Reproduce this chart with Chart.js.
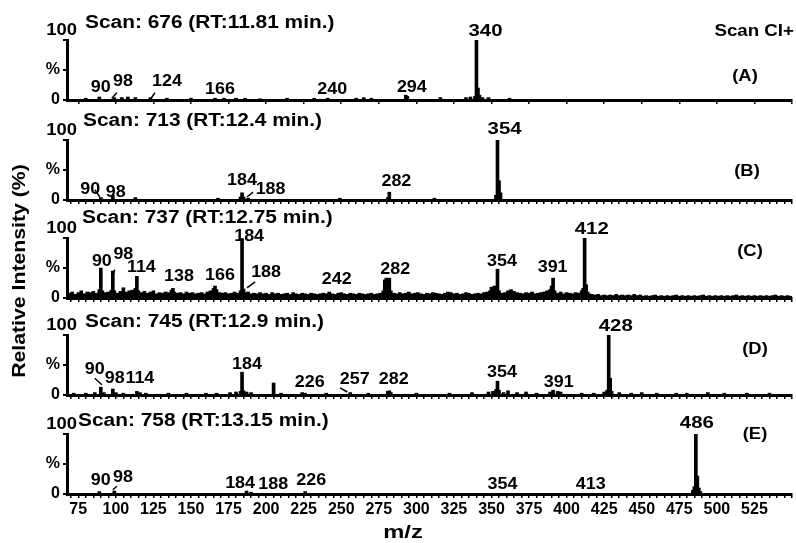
<!DOCTYPE html>
<html lang="en">
<head>
<meta charset="UTF-8" />
<title>Scan CI+ spectra</title>
<script src="https://cdn.jsdelivr.net/npm/chart.js"></script>
<style>
  body { margin: 0; background: #fff; }
  #wrap { position: relative; width: 796px; height: 543px; }
  #wrap canvas { position: absolute; left: 0; top: 0; }
</style>
</head>
<body>
<div id="wrap">
  <canvas id="specA" width="796" height="543"></canvas>
  <canvas id="specB" width="796" height="543"></canvas>
  <canvas id="specC" width="796" height="543"></canvas>
  <canvas id="specD" width="796" height="543"></canvas>
  <canvas id="specE" width="796" height="543"></canvas>
</div>
<script>
// --- data (m/z, relative intensity %) ---
const mzA = [80, 89, 99, 104, 108, 113, 123, 134, 150, 166, 172, 180, 186, 196, 214, 232, 241, 260, 265, 270,
             293, 294, 316, 333, 336, 339, 340, 341, 342, 344, 348, 362];
const intA = [3, 5, 4, 4, 5, 4, 4, 3, 3, 3, 3, 3, 3, 2, 3, 3, 3, 3, 4, 3,
              8, 6, 4, 4, 5, 6, 100, 20, 8, 4, 4, 3];

const mzB = [90, 98, 113, 168, 183, 184, 185, 188, 249, 281, 282, 312, 353, 354, 355, 356];
const intB = [4, 8, 4, 3, 5, 12, 5, 3, 3, 4, 13, 3, 8, 100, 32, 12];

const mzC = [69, 71, 73, 75, 77, 79, 81, 83, 85, 87,
             89, 90, 91, 93, 95, 97, 98, 99, 101, 103,
             105, 107, 109, 111, 113, 114, 115, 117, 119, 121,
             123, 125, 127, 129, 131, 133, 135, 137, 138, 139,
             141, 143, 145, 147, 149, 151, 153, 155, 157, 159,
             161, 163, 165, 166, 167, 169, 171, 173, 175, 177,
             179, 181, 183, 184, 185, 186, 188, 190, 192, 194,
             196, 198, 200, 202, 204, 206, 208, 210, 212, 214,
             216, 218, 220, 222, 224, 226, 228, 230, 232, 234,
             236, 238, 240, 242, 244, 246, 248, 250, 252, 254,
             256, 258, 260, 262, 264, 266, 268, 270, 272, 274,
             276, 278, 279, 280, 281, 282, 283, 285, 287, 289,
             291, 293, 295, 297, 299, 301, 303, 305, 307, 309,
             311, 313, 315, 317, 319, 321, 323, 325, 327, 329,
             331, 333, 335, 337, 339, 341, 343, 345, 347, 349,
             350, 352, 353, 354, 355, 357, 359, 361, 363, 365,
             367, 369, 371, 373, 375, 377, 379, 381, 383, 385,
             387, 389, 390, 391, 392, 394, 396, 398, 400, 402,
             404, 406, 408, 410, 411, 412, 413, 414, 415, 417,
             419, 421, 423, 425, 427, 429, 431, 433, 435, 437,
             439, 441, 443, 445, 447, 449, 451, 453, 455, 457,
             459, 461, 463, 465, 467, 469, 471, 473, 475, 477,
             479, 481, 483, 485, 487, 489, 491, 493, 495, 497,
             499, 501, 503, 505, 507, 509, 511, 513, 515, 517,
             519, 521, 523, 525, 527, 529, 531, 533, 535, 537,
             539, 541, 543, 545, 547, 549];
const intC = [8, 10, 6, 9, 12, 7, 10, 9, 11, 8,
              14, 50, 12, 9, 10, 13, 45, 12, 8, 11,
              17, 10, 12, 13, 16, 36, 12, 9, 11, 8,
              10, 12, 7, 9, 8, 10, 9, 13, 16, 10,
              8, 9, 7, 10, 8, 9, 7, 8, 9, 7,
              10, 12, 16, 20, 14, 9, 8, 9, 7, 8,
              10, 8, 12, 99, 15, 9, 10, 7, 8, 7,
              9, 7, 8, 6, 9, 7, 8, 6, 7, 8,
              6, 9, 7, 6, 8, 7, 6, 8, 7, 6,
              7, 8, 7, 10, 7, 6, 8, 9, 7, 6,
              8, 7, 6, 8, 7, 6, 7, 8, 6, 7,
              8, 12, 30, 33, 33, 33, 12, 8, 7, 9,
              7, 8, 10, 7, 8, 9, 7, 6, 8, 7,
              9, 8, 7, 6, 8, 10, 9, 7, 8, 6,
              7, 9, 8, 6, 7, 8, 7, 9, 10, 12,
              18, 20, 15, 48, 12, 8, 9, 12, 14, 11,
              9, 8, 7, 9, 8, 10, 7, 8, 9, 10,
              12, 14, 20, 33, 12, 8, 10, 7, 9, 8,
              7, 9, 8, 12, 16, 100, 22, 10, 7, 6,
              5, 6, 4, 5, 4, 5, 4, 6, 4, 5,
              4, 5, 4, 6, 4, 5, 3, 4, 3, 4,
              5, 3, 4, 3, 4, 3, 4, 5, 3, 4,
              3, 4, 3, 4, 3, 4, 5, 3, 4, 3,
              4, 3, 4, 3, 4, 3, 4, 5, 3, 4,
              3, 4, 3, 4, 3, 4, 3, 4, 3, 4,
              5, 3, 4, 3, 4, 3];

const mzD = [72, 80, 86, 90, 92, 98, 100, 105, 114, 116,
             120, 135, 147, 160, 167, 176, 180, 183, 184, 185,
             187, 190, 205, 210, 224, 226, 240, 256, 268, 281,
             282, 283, 300, 322, 337, 348, 351, 353, 354, 355,
             358, 361, 367, 373, 380, 389, 391, 394, 396, 410,
             418, 425, 427, 428, 429, 430, 435, 443, 450, 460,
             473, 480, 494, 505, 520, 535];
const intD = [3, 3, 4, 13, 4, 10, 4, 3, 6, 4,
              3, 3, 3, 3, 3, 4, 5, 6, 38, 7,
              5, 4, 20, 3, 4, 3, 3, 4, 3, 6,
              7, 4, 3, 3, 4, 5, 6, 9, 23, 8,
              4, 7, 4, 5, 3, 5, 8, 6, 5, 3,
              3, 5, 8, 100, 28, 6, 4, 3, 4, 3,
              3, 3, 4, 3, 3, 3];

const mzE = [89, 99, 187, 190, 226, 484, 485, 486, 487, 488, 489];
const intE = [4, 5, 5, 3, 4, 6, 12, 100, 30, 10, 4];

// peak labels: [text, m/z, level %]
const labA = [['340', 346, 115], ['90', 90, 20], ['98', 104.7, 30], ['124', 134, 30],
              ['166', 169.3, 17], ['240', 244, 17], ['294', 297, 20]];
const labB = [['354', 358.7, 118], ['90', 83, 18], ['98', 100, 12], ['184', 184, 33],
              ['188', 203, 17], ['282', 286.7, 30]];
const labC = [['412', 416.7, 115], ['184', 188.7, 103], ['90', 90.7, 60], ['98', 105, 72],
              ['114', 117, 50], ['138', 142, 35], ['166', 169.3, 37], ['188', 200, 42],
              ['242', 247, 30], ['282', 286, 47], ['354', 357, 60], ['391', 390.7, 50]];
const labD = [['428', 432.7, 115], ['90', 86, 42], ['98', 99.3, 28], ['114', 116, 27],
              ['184', 187.3, 50], ['226', 229, 20], ['257', 259, 25], ['282', 285, 25],
              ['354', 357, 37], ['391', 394.7, 20]];
const labE = [['486', 486.7, 118], ['90', 90, 22], ['98', 104.7, 27], ['184', 182.7, 18],
              ['188', 204.7, 15], ['226', 230, 22], ['354', 357.3, 15], ['413', 416, 15]];

// leader strokes: [m/z1, level1, m/z2, level2]
const ldA = [[122.7, 0, 126, 12], [97.3, 3, 100.7, 12]];
const ldB = [[86, 17, 89.3, 5], [187.3, 5, 191.3, 13]];
const ldC = [[99.3, 47, 97.3, 33], [187.3, 17, 192.7, 27]];
const ldD = [[86, 28, 90.7, 17], [249.3, 12, 254, 5]];
const ldE = [[98, 7, 100.7, 13]];

const scanTitles = ['Scan: 676 (RT:11.81 min.)', 'Scan: 713 (RT:12.4 min.)', 'Scan: 737 (RT:12.75 min.)',
                    'Scan: 745 (RT:12.9 min.)', 'Scan: 758 (RT:13.15 min.)'];

const FONT = '"Liberation Sans", Arial, sans-serif';
Chart.defaults.font.family = FONT;
Chart.defaults.color = '#000';

const panels = [
  { id: 'specA', key: 'A', mz: mzA, inten: intA, labels: labA, leaders: ldA, base: 100, step: 25, tx: 85, ty: -17, letter: [745, 77] },
  { id: 'specB', key: 'B', mz: mzB, inten: intB, labels: labB, leaders: ldB, base: 200, step: 5, tx: 83, ty: -19, letter: [747, 172] },
  { id: 'specC', key: 'C', mz: mzC, inten: intC, labels: labC, leaders: ldC, base: 298, step: 5, tx: 82, ty: -20, letter: [750, 252] },
  { id: 'specD', key: 'D', mz: mzD, inten: intD, labels: labD, leaders: ldD, base: 395, step: 5, tx: 85, ty: -13, letter: [755, 350] },
  { id: 'specE', key: 'E', mz: mzE, inten: intE, labels: labE, leaders: ldE, base: 494, step: 5, tx: 78, ty: -13, letter: [755, 435] }
];

// text is a little wide in the original figure, so stretch it horizontally
function put(ctx, s, x, y, size, align, sx) {
  ctx.save();
  ctx.font = 'bold ' + size + 'px ' + FONT;
  ctx.textBaseline = 'middle';
  ctx.textAlign = align;
  ctx.translate(x, y);
  ctx.scale(sx, 1);
  ctx.fillText(s, 0, 0);
  ctx.restore();
}

function annot(p, i) {
  return {
    id: 'annot' + i,
    afterDraw(chart) {
      const { ctx, chartArea: a } = chart;
      const x = chart.scales.x, y = chart.scales.y;
      ctx.save();
      ctx.fillStyle = '#000';
      ctx.strokeStyle = '#000';
      put(ctx, '100', a.left + 10, a.top - 9, 16, 'right', 1.15);
      put(ctx, scanTitles[i], p.tx, a.top + p.ty, 18, 'left', 1.16);
      put(ctx, '(' + p.key + ')', p.letter[0], p.letter[1], 16, 'center', 1.15);
      p.labels.forEach(([t, m, v]) => {
        const big = v > 105;
        put(ctx, t, x.getPixelForValue(m), y.getPixelForValue(v), big ? 17 : 16, 'center', big ? 1.2 : 1.12);
      });
      ctx.lineWidth = 1.5;
      p.leaders.forEach(([m1, v1, m2, v2]) => {
        ctx.beginPath();
        ctx.moveTo(x.getPixelForValue(m1), y.getPixelForValue(v1));
        ctx.lineTo(x.getPixelForValue(m2), y.getPixelForValue(v2));
        ctx.stroke();
      });
      if (i === 0) put(ctx, 'Scan CI+', 794, 32, 16, 'right', 1.17);
      if (i === 2) {
        ctx.save();
        ctx.translate(20, 271);
        ctx.rotate(-Math.PI / 2);
        put(ctx, 'Relative Intensity (%)', 0, 0, 18, 'center', 1.18);
        ctx.restore();
      }
      if (i === 4) put(ctx, 'm/z', 403, 533, 19, 'center', 1.25);
      ctx.restore();
    }
  };
}

panels.forEach((p, i) => {
  const last = i === panels.length - 1;
  const xH = last ? 30 : 6;
  new Chart(document.getElementById(p.id), {
    type: 'bar',
    data: {
      datasets: [{
        data: p.mz.map((m, k) => ({ x: m, y: p.inten[k] })),
        backgroundColor: '#000',
        borderWidth: 0,
        barThickness: 3
      }]
    },
    options: {
      responsive: false,
      animation: false,
      layout: { padding: { top: p.base - 60, left: 37, right: 4, bottom: 543 - p.base - xH } },
      plugins: { legend: { display: false }, tooltip: { enabled: false } },
      scales: {
        x: {
          type: 'linear', min: 67.5, max: 550, offset: false,
          afterFit: s => { s.height = xH; },
          border: { color: '#000', width: 3 },
          grid: { offset: false, drawOnChartArea: false, drawTicks: true, tickLength: 4, color: '#000', lineWidth: 1.5 },
          ticks: {
            display: last, stepSize: p.step, includeBounds: false, autoSkip: false,
            maxRotation: 0, minRotation: 0, padding: 2,
            font: { size: 16, weight: 'bold' },
            callback: v => (v % 25 === 0 && v < 550) ? String(v) : ''
          }
        },
        y: {
          min: 0, max: 100,
          afterFit: s => { s.width = 30; },
          border: { color: '#000', width: 3 },
          grid: { drawOnChartArea: false, tickLength: 4, color: '#000', lineWidth: 2 },
          ticks: {
            stepSize: 50, padding: 3,
            font: { size: 16, weight: 'bold' },
            callback: v => v === 50 ? '%' : (v === 0 ? '0' : '')
          }
        }
      }
    },
    plugins: [annot(p, i)]
  });
});
</script>
</body>
</html>
